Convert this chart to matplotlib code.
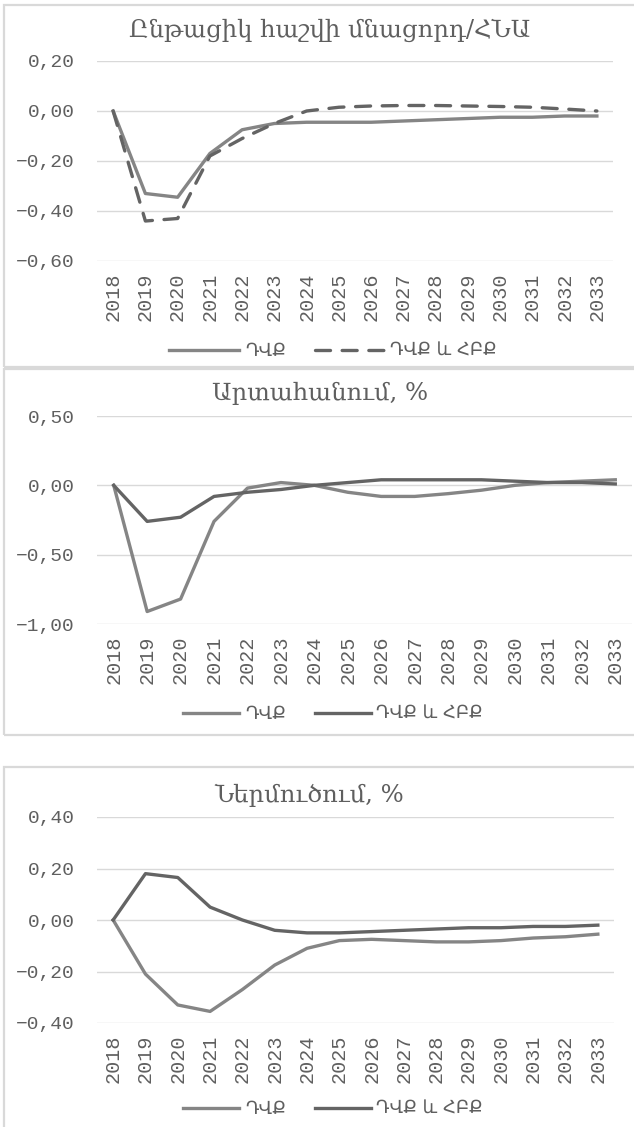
import numpy as np
import matplotlib
matplotlib.use('Agg')
import matplotlib.pyplot as plt
from matplotlib.patches import Rectangle
from matplotlib.ticker import FuncFormatter

# years on the category axis
years = [str(y) for y in range(2018, 2034)]

# current account balance / GDP
ca_dvk = [0, -0.33, -0.345, -0.17, -0.075, -0.05, -0.045, -0.045, -0.045, -0.04,
          -0.035, -0.03, -0.025, -0.025, -0.02, -0.02]
ca_dvk_hbk = [0, -0.44, -0.43, -0.18, -0.11, -0.05, 0.0, 0.015, 0.02, 0.022,
              0.022, 0.02, 0.018, 0.015, 0.008, 0.0]

# output, %
out_dvk = [0, -0.91, -0.82, -0.26, -0.02, 0.02, 0.0, -0.05, -0.08, -0.08,
           -0.06, -0.035, 0.0, 0.02, 0.03, 0.04]
out_dvk_hbk = [0, -0.26, -0.23, -0.08, -0.05, -0.03, 0.0, 0.02, 0.04, 0.04,
               0.04, 0.04, 0.03, 0.02, 0.02, 0.01]

# imports, %
imp_dvk = [0, -0.21, -0.33, -0.355, -0.27, -0.175, -0.11, -0.08, -0.075, -0.08,
           -0.085, -0.085, -0.08, -0.07, -0.065, -0.055]
imp_dvk_hbk = [0, 0.18, 0.165, 0.05, 0.0, -0.04, -0.05, -0.05, -0.045, -0.04,
               -0.035, -0.03, -0.03, -0.025, -0.025, -0.02]

titles = ['Ընթացիկ հաշվի մնացորդ/ՀՆԱ', 'Արտահանում, %', 'Ներմուծում, %']
labels = ['ԴՎՔ', 'ԴՎՔ և ՀԲՔ']
yticks = [[0.2, 0.0, -0.2, -0.4, -0.6], [0.5, 0.0, -0.5, -1.0], [0.4, 0.2, 0.0, -0.2, -0.4]]

W, H = 634, 1127
fig = plt.figure(figsize=(W / 100, H / 100), dpi=100)
fig.patch.set_facecolor('white')

txt = '#5f5f5f'
grid = '#d9d9d9'
light = '#858585'
dark = '#646464'
mono = 'Liberation Mono'

def fx(px):
    return px / W

def fy(px):
    return 1 - px / H

def fmt(v, pos):
    s = '%.2f' % abs(v)
    s = s.replace('.', ',')
    return ('−' if v < -1e-9 else '') + s

# panel boxes: (top, bottom)
for top, bot in [(5, 367), (369, 735), (767, 1135)]:
    fig.patches.append(Rectangle((fx(4), fy(bot)), fx(640) - fx(4), fy(top) - fy(bot),
                                 transform=fig.transFigure, fill=False,
                                 edgecolor=grid, linewidth=1.6))

# axes boxes in pixels: left, right, top, bottom
boxes = [(97, 613, 61, 261), (97, 632, 416, 624), (97, 614, 817, 1023)]
series = [(ca_dvk, ca_dvk_hbk), (out_dvk, out_dvk_hbk), (imp_dvk, imp_dvk_hbk)]
title_pos = [(330, 30), (320, 393), (309, 795)]
legend_y = [351, 714, 1109]
handle_len = [3.9, 3.1, 3.1]

x = np.arange(len(years))
for i in range(3):
    l, r, t, b = boxes[i]
    ax = fig.add_axes([fx(l), fy(b), fx(r) - fx(l), fy(t) - fy(b)])
    ax.set_facecolor('none')
    yt = yticks[i]
    ax.set_ylim(min(yt), max(yt))
    ax.set_xlim(-0.5, len(years) - 0.5)
    ax.set_yticks(yt)
    ax.yaxis.set_major_formatter(FuncFormatter(fmt))
    ax.set_xticks(x)
    ax.set_xticklabels(years, rotation=90, fontsize=14.5, color=txt, family=mono)
    for lab in ax.get_yticklabels():
        lab.set_family(mono)
        lab.set_fontsize(14)
        lab.set_color(txt)
    ax.tick_params(length=0, pad=8)
    ax.tick_params(axis='y', pad=16)
    for s in ax.spines.values():
        s.set_visible(False)
    ax.grid(axis='y', color=grid, linewidth=1)
    ax.set_axisbelow(True)

    a, c = series[i]
    if i == 0:
        h1, = ax.plot(x, a, color=light, linewidth=2.4, label=labels[0])
        h2, = ax.plot(x, c, color=dark, linewidth=2.4, dashes=(4.5, 3.5),
                      dash_capstyle='round', label=labels[1])
    else:
        h1, = ax.plot(x, a, color=light, linewidth=2.4, label=labels[0])
        h2, = ax.plot(x, c, color=dark, linewidth=2.4, label=labels[1])

    fig.text(fx(title_pos[i][0]), fy(title_pos[i][1]), titles[i], ha='center',
             va='center', fontsize=17.5, color=txt, family='DejaVu Serif')

    fig.legend(handles=[h1, h2], loc='center', ncol=2, frameon=False,
               bbox_to_anchor=(fx(333), fy(legend_y[i])), bbox_transform=fig.transFigure,
               labelcolor=txt, handlelength=handle_len[i], handletextpad=0.3,
               columnspacing=1.6, prop={'family': 'DejaVu Sans', 'size': 13})

fig.savefig('out.png', dpi=100, facecolor='white')
